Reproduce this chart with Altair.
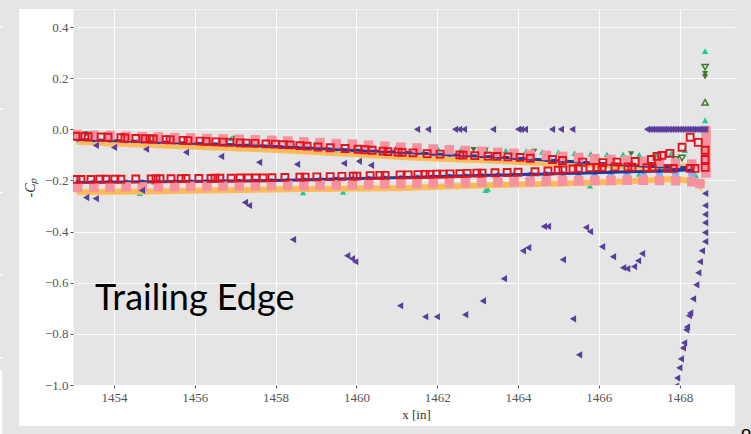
import altair as alt
import pandas as pd

# ---------------- data ----------------
XS = [1453.1, 1453.5, 1453.9, 1454.3, 1454.7, 1455.1, 1455.5, 1455.9, 1456.3, 1456.7,
      1457.1, 1457.5, 1457.9, 1458.3, 1458.7, 1459.1, 1459.5, 1459.9, 1460.3, 1460.7,
      1461.1, 1461.5, 1461.9, 1462.3, 1462.7, 1463.1, 1463.5, 1463.9, 1464.3, 1464.7,
      1465.1, 1465.5, 1465.9, 1466.3, 1466.7, 1467.1, 1467.5, 1467.9, 1468.3]

PINK_A = [-0.020, -0.023, -0.024, -0.027, -0.029, -0.030, -0.033, -0.034, -0.036, -0.038,
          -0.039, -0.041, -0.043, -0.046, -0.049, -0.052, -0.056, -0.058, -0.062, -0.066,
          -0.070, -0.073, -0.077, -0.080, -0.083, -0.086, -0.090, -0.094, -0.098, -0.102,
          -0.106, -0.110, -0.115, -0.118, -0.121, -0.125, -0.128, -0.133, -0.136]
PINK_B = [-0.227, -0.226, -0.226, -0.225, -0.225, -0.224, -0.224, -0.223, -0.223, -0.222,
          -0.222, -0.221, -0.220, -0.219, -0.219, -0.218, -0.217, -0.216, -0.215, -0.213,
          -0.212, -0.211, -0.210, -0.209, -0.208, -0.207, -0.206, -0.205, -0.204, -0.203,
          -0.202, -0.201, -0.200, -0.200, -0.199, -0.199, -0.200, -0.201, -0.205]
PINK_TE_X = [1468.65, 1468.65, 1468.65, 1468.65, 1468.65, 1468.65, 1468.5]
PINK_TE_Y = [-0.005, -0.035, -0.065, -0.100, -0.135, -0.170, -0.212]

BLUE_A = [-0.035, -0.037, -0.039, -0.041, -0.043, -0.045, -0.047, -0.049, -0.051, -0.053,
          -0.055, -0.057, -0.060, -0.063, -0.066, -0.069, -0.072, -0.075, -0.078, -0.082,
          -0.085, -0.088, -0.091, -0.094, -0.097, -0.099, -0.102, -0.105, -0.109, -0.113,
          -0.117, -0.121, -0.125, -0.128, -0.131, -0.134, -0.137, -0.140, -0.143]
BLUE_B = [-0.211, -0.211, -0.210, -0.210, -0.210, -0.210, -0.210, -0.209, -0.209, -0.208,
          -0.208, -0.207, -0.206, -0.204, -0.202, -0.200, -0.199, -0.197, -0.196, -0.194,
          -0.192, -0.190, -0.189, -0.187, -0.186, -0.184, -0.183, -0.181, -0.180, -0.178,
          -0.177, -0.175, -0.174, -0.173, -0.173, -0.172, -0.172, -0.173, -0.176]

NAVY_A = [-0.040, -0.042, -0.044, -0.046, -0.048, -0.050, -0.052, -0.054, -0.056, -0.058,
          -0.061, -0.063, -0.066, -0.069, -0.072, -0.075, -0.078, -0.081, -0.084, -0.087,
          -0.090, -0.093, -0.096, -0.099, -0.102, -0.105, -0.108, -0.112, -0.116, -0.120,
          -0.124, -0.128, -0.133, -0.136, -0.140, -0.143, -0.146, -0.150, -0.148]
NAVY_B = [-0.207, -0.207, -0.206, -0.206, -0.205, -0.205, -0.204, -0.204, -0.203, -0.202,
          -0.202, -0.201, -0.200, -0.199, -0.197, -0.196, -0.194, -0.193, -0.191, -0.190,
          -0.188, -0.187, -0.185, -0.184, -0.182, -0.181, -0.179, -0.178, -0.176, -0.175,
          -0.173, -0.172, -0.170, -0.168, -0.166, -0.165, -0.163, -0.161, -0.158]
NAVY_TE_X = [1468.63, 1468.63]
NAVY_TE_Y = [-0.078, -0.110]

ORANGE_A = [-0.050, -0.052, -0.055, -0.057, -0.060, -0.062, -0.065, -0.067, -0.070, -0.072,
            -0.075, -0.077, -0.080, -0.083, -0.087, -0.090, -0.094, -0.097, -0.101, -0.104,
            -0.108, -0.111, -0.114, -0.116, -0.119, -0.121, -0.124, -0.127, -0.130, -0.132,
            -0.135, -0.137, -0.140, -0.142, -0.144, -0.146, -0.148, -0.150, -0.140]
ORANGE_B = [-0.246, -0.245, -0.244, -0.243, -0.243, -0.242, -0.241, -0.240, -0.239, -0.238,
            -0.237, -0.236, -0.235, -0.234, -0.233, -0.233, -0.232, -0.231, -0.231, -0.230,
            -0.230, -0.228, -0.226, -0.224, -0.222, -0.220, -0.218, -0.216, -0.215, -0.213,
            -0.212, -0.210, -0.208, -0.206, -0.203, -0.200, -0.197, -0.193, -0.203]
ORANGE_TE_X = [1468.62, 1468.58, 1468.52]
ORANGE_TE_Y = [-0.035, -0.215, -0.232]

RED_A_X = [1453.06, 1453.28, 1453.36, 1453.68, 1453.85, 1454.17, 1454.27, 1454.54, 1454.77, 1454.89,
           1454.97, 1455.29, 1455.39, 1455.71, 1455.83, 1456.13, 1456.28, 1456.52, 1456.70, 1456.87,
           1457.12, 1457.27, 1457.49, 1457.76, 1457.99, 1458.18, 1458.36, 1458.60, 1458.78, 1459.05,
           1459.35, 1459.72, 1460.04, 1460.21, 1460.39, 1460.66, 1460.78, 1461.03, 1461.13, 1461.40,
           1461.75, 1462.07, 1462.56, 1462.64, 1462.93, 1463.26, 1463.48, 1463.75, 1464.05, 1464.30,
           1464.85, 1465.10, 1465.60, 1466.10, 1466.45, 1466.90, 1467.30, 1467.44, 1467.56, 1467.76,
           1468.06, 1468.26, 1468.46, 1468.63]
RED_A_Y = [-0.027, -0.028, -0.029, -0.030, -0.031, -0.033, -0.034, -0.036, -0.037, -0.038,
           -0.038, -0.040, -0.041, -0.043, -0.044, -0.046, -0.047, -0.049, -0.050, -0.051,
           -0.053, -0.054, -0.055, -0.057, -0.058, -0.060, -0.061, -0.064, -0.066, -0.069,
           -0.072, -0.075, -0.078, -0.080, -0.082, -0.085, -0.087, -0.089, -0.090, -0.092,
           -0.095, -0.097, -0.100, -0.101, -0.103, -0.105, -0.106, -0.108, -0.110, -0.113,
           -0.118, -0.122, -0.128, -0.130, -0.128, -0.126, -0.118, -0.106, -0.102, -0.094,
           -0.070, -0.031, -0.051, -0.082]
RED_B_X = [1453.06, 1453.18, 1453.43, 1453.65, 1453.80, 1454.02, 1454.17, 1454.54, 1454.92, 1455.04,
           1455.14, 1455.41, 1455.66, 1455.78, 1456.10, 1456.40, 1456.50, 1456.62, 1456.90, 1457.12,
           1457.32, 1457.51, 1457.69, 1457.91, 1458.23, 1458.60, 1458.73, 1459.02, 1459.35, 1459.64,
           1459.92, 1460.01, 1460.34, 1460.58, 1460.71, 1461.08, 1461.28, 1461.52, 1461.70, 1461.82,
           1461.99, 1462.14, 1462.32, 1462.56, 1462.74, 1462.98, 1463.11, 1463.43, 1463.73, 1464.00,
           1464.42, 1464.74, 1464.99, 1465.11, 1465.36, 1465.49, 1465.78, 1465.96, 1466.08, 1466.40,
           1466.72, 1466.82, 1467.19, 1467.32, 1467.71, 1467.84, 1468.26, 1468.38, 1468.63, 1468.63]
RED_B_Y = [-0.196, -0.196, -0.196, -0.195, -0.195, -0.195, -0.195, -0.194, -0.194, -0.194,
           -0.193, -0.193, -0.193, -0.192, -0.192, -0.192, -0.191, -0.191, -0.191, -0.190,
           -0.190, -0.190, -0.190, -0.189, -0.188, -0.187, -0.187, -0.186, -0.185, -0.184,
           -0.183, -0.183, -0.181, -0.180, -0.180, -0.178, -0.178, -0.177, -0.176, -0.176,
           -0.175, -0.175, -0.174, -0.173, -0.172, -0.171, -0.171, -0.170, -0.169, -0.168,
           -0.166, -0.163, -0.160, -0.159, -0.155, -0.153, -0.150, -0.149, -0.148, -0.147,
           -0.147, -0.148, -0.150, -0.151, -0.153, -0.153, -0.153, -0.153, -0.118, -0.149]

TEAL_X = [1453.33, 1455.00, 1456.90, 1459.00, 1461.00, 1462.00, 1462.60, 1463.20, 1463.70, 1464.20,
          1464.60, 1465.00, 1465.40, 1465.80, 1466.20, 1466.60, 1467.00, 1467.40, 1467.80, 1468.13,
          1468.63, 1468.63,
          1453.50, 1454.64, 1455.00, 1458.68, 1459.67, 1463.20, 1463.25, 1465.78, 1467.00, 1468.40]
TEAL_Y = [-0.016, -0.028, -0.036, -0.050, -0.066, -0.072, -0.076, -0.080, -0.083, -0.085,
          -0.088, -0.090, -0.093, -0.096, -0.098, -0.098, -0.099, -0.097, -0.092, -0.082,
          0.306, 0.035,
          -0.205, -0.250, -0.206, -0.247, -0.245, -0.238, -0.233, -0.220, -0.175, -0.180]

GREEN_OPEN_DN_X = [1468.63, 1468.06, 1467.90]
GREEN_OPEN_DN_Y = [0.243, -0.112, -0.118]
GREEN_OPEN_UP_X = [1468.63]
GREEN_OPEN_UP_Y = [0.106]
GREEN_DN_X = [1468.63, 1468.63, 1453.30, 1457.00, 1462.90, 1463.20, 1464.40, 1466.80]
GREEN_DN_Y = [0.218, 0.205, -0.018, -0.036, -0.080, -0.082, -0.086, -0.096]

PURPLE_1_X = [1453.55, 1454.00, 1454.79, 1455.78, 1456.65, 1457.59, 1458.53, 1459.69, 1460.06, 1460.36,
              1453.31, 1453.55, 1454.69, 1457.24, 1457.34]
PURPLE_1_Y = [-0.063, -0.071, -0.078, -0.090, -0.106, -0.129, -0.137, -0.133, -0.125, -0.141,
              -0.267, -0.271, -0.239, -0.286, -0.298]
PURPLE_ROW_X = [1461.50, 1461.77, 1462.44, 1462.54, 1462.66, 1463.38, 1464.00, 1464.07, 1464.17, 1464.84,
                1465.06, 1465.34,
                1467.19, 1467.25, 1467.31, 1467.37, 1467.43, 1467.49, 1467.55, 1467.61, 1467.67, 1467.73,
                1467.79, 1467.85, 1467.91, 1467.97, 1468.03, 1468.09, 1468.15, 1468.21, 1468.27, 1468.33,
                1468.39, 1468.45, 1468.51, 1468.57, 1468.63]
PURPLE_ROW_Y = [0.0, 0.0, 0.0, 0.0, 0.0, 0.0, 0.0, 0.0, 0.0, 0.0,
                0.0, 0.0,
                0.0, 0.0, 0.0, 0.0, 0.0, 0.0, 0.0, 0.0, 0.0, 0.0,
                0.0, 0.0, 0.0, 0.0, 0.0, 0.0, 0.0, 0.0, 0.0, 0.0,
                0.0, 0.0, 0.0, 0.0, 0.0]
PURPLE_2_X = [1458.43, 1459.77, 1459.89, 1459.97, 1461.08, 1461.70, 1461.99, 1462.69, 1463.13, 1463.65,
              1464.12, 1464.25, 1464.64, 1464.74, 1465.11, 1465.36, 1465.51, 1465.68, 1465.78, 1466.08,
              1466.35, 1466.60, 1466.70, 1466.87, 1466.97, 1467.07]
PURPLE_2_Y = [-0.431, -0.494, -0.506, -0.518, -0.690, -0.733, -0.733, -0.725, -0.671, -0.584,
              -0.475, -0.463, -0.380, -0.380, -0.510, -0.741, -0.882, -0.384, -0.400, -0.459,
              -0.498, -0.541, -0.545, -0.537, -0.514, -0.486]
PURPLE_TE_X = [1468.63, 1468.63, 1468.63, 1468.63, 1468.63, 1468.63, 1468.55, 1468.50, 1468.46, 1468.41,
               1468.33, 1468.26, 1468.23, 1468.18, 1468.16, 1468.11, 1468.08, 1468.03, 1467.99, 1467.94,
               1467.91]
PURPLE_TE_Y = [-0.251, -0.298, -0.333, -0.365, -0.404, -0.439, -0.475, -0.518, -0.561, -0.608,
               -0.663, -0.718, -0.729, -0.773, -0.784, -0.835, -0.855, -0.898, -0.933, -0.973,
               -1.004]

X_TICKS = [1454, 1456, 1458, 1460, 1462, 1464, 1466, 1468]
Y_TICKS = [-1.0, -0.8, -0.6, -0.4, -0.2, 0.0, 0.2, 0.4]

ANNOT_TEXT = ["Trailing Edge"]
ANNOT_X = [1453.53]
ANNOT_Y = [-0.706]

# ---------------- styling ----------------
GRAY = "#e5e5e5"
PINK = "#f6929e"
RED = "#e2131f"
BLUE = "#8cb0f0"
NAVY = "#1f3b9b"
ORANGE = "#fdbb5b"
TEAL = "#1ec994"
DKGREEN = "#3a7a2a"
PURPLE = "#5a3e9c"
AX = "#555555"

W, H = 662, 376

x_axis = alt.Axis(values=X_TICKS, format="d", title="x [in]", grid=True, gridColor="white",
                  gridWidth=1, domain=False, tickColor=AX, tickSize=3, labelColor=AX,
                  labelFont="Liberation Serif", labelFontSize=13, labelPadding=3,
                  titleFont="Liberation Serif", titleFontSize=13, titleFontWeight="normal",
                  titleColor="#333333", titleX=343, titleY=29, titleBaseline="middle",
                  titleAlign="center")
y_axis = alt.Axis(values=Y_TICKS, format=".1f", title="-Cₚ", grid=True, gridColor="white",
                  gridWidth=1, domain=False, tickColor=AX, tickSize=3, labelColor=AX,
                  labelFont="Liberation Serif", labelFontSize=13, labelPadding=2,
                  titleFont="Liberation Serif", titleFontSize=14, titleFontWeight="normal",
                  titleFontStyle="italic", titleColor="#333333", titleX=-43, titleY=178,
                  titleBaseline="middle", titleAlign="center", titleAngle=270)

XE = alt.X("x:Q", scale=alt.Scale(domain=[1452.985, 1469.37], nice=False, zero=False), axis=x_axis)
YE = alt.Y("y:Q", scale=alt.Scale(domain=[-1.0, 0.4706], nice=False, zero=False), axis=y_axis)


def df(xs, ys, band="a"):
    return pd.DataFrame({"x": xs, "y": ys, "band": band})


def pts(data, shape, size, color, filled=True, sw=1.0):
    if filled:
        m = alt.Chart(data).mark_point(shape=shape, size=size, filled=True, fill=color,
                                       strokeWidth=0, opacity=1, clip=True)
    else:
        m = alt.Chart(data).mark_point(shape=shape, size=size, filled=False, stroke=color,
                                       strokeWidth=sw, opacity=1, clip=True)
    return m.encode(x=XE, y=YE)


def line(data, color, sw):
    return alt.Chart(data).mark_line(color=color, strokeWidth=sw, clip=True).encode(
        x=XE, y=YE, detail="band:N")


dummy = pd.DataFrame({"a": [0]})


def prect(x1, x2, y1, y2, color):
    return alt.Chart(dummy).mark_rect(color=color, clip=False).encode(
        x=alt.value(x1), x2=alt.value(x2), y=alt.value(y1), y2=alt.value(y2))


layers = []
# slide decorations outside the white figure box
layers.append(prect(-73, W + 16, -9, 0, GRAY))
layers.append(prect(-73, -54, -9, H + 49, GRAY))
layers.append(prect(W, W + 16, -9, H + 49, GRAY))
layers.append(prect(-73, W + 16, H + 41, H + 49, GRAY))
for ty in [17, 99, 183, 265, 348]:
    layers.append(prect(-73, -70, ty, ty + 1.5, "white"))
layers.append(prect(-73, -71, 361, H + 49, "white"))

# data series
teal = df(TEAL_X, TEAL_Y)
layers.append(pts(teal, "triangle-up", 42, TEAL))
layers.append(pts(df(GREEN_DN_X, GREEN_DN_Y), "triangle-down", 38, DKGREEN))
layers.append(pts(df(GREEN_OPEN_DN_X, GREEN_OPEN_DN_Y), "triangle-down", 38, DKGREEN, False, 1.5))
layers.append(pts(df(GREEN_OPEN_UP_X, GREEN_OPEN_UP_Y), "triangle-up", 38, DKGREEN, False, 1.5))

orange = pd.concat([df(XS, ORANGE_A, "a"), df(XS, ORANGE_B, "b")])
layers.append(line(orange, ORANGE, 6))
layers.append(pts(orange, "triangle-down", 42, ORANGE))
layers.append(pts(df(ORANGE_TE_X, ORANGE_TE_Y), "triangle-down", 42, ORANGE))

blue = pd.concat([df(XS, BLUE_A, "a"), df(XS, BLUE_B, "b")])
layers.append(pts(blue, "circle", 55, BLUE))

navy = pd.concat([df(XS, NAVY_A, "a"), df(XS, NAVY_B, "b")])
layers.append(line(navy, NAVY, 3))
layers.append(pts(navy, "circle", 16, NAVY))
layers.append(pts(df(NAVY_TE_X, NAVY_TE_Y), "square", 20, NAVY))

pink = pd.concat([df(XS, PINK_A, "a"), df(XS, PINK_B, "b"), df(PINK_TE_X, PINK_TE_Y, "c")])
layers.append(pts(pink, "square", 92, PINK))

red = pd.concat([df(RED_A_X, RED_A_Y, "a"), df(RED_B_X, RED_B_Y, "b")])
layers.append(pts(red, "square", 48, RED, False, 1.9))

purple = pd.concat([df(PURPLE_1_X, PURPLE_1_Y), df(PURPLE_ROW_X, PURPLE_ROW_Y),
                    df(PURPLE_2_X, PURPLE_2_Y), df(PURPLE_TE_X, PURPLE_TE_Y)])
layers.append(pts(purple, "triangle-left", 52, PURPLE))

annot = pd.DataFrame({"x": ANNOT_X, "y": ANNOT_Y, "t": ANNOT_TEXT})
layers.append(alt.Chart(annot).mark_text(font="Lato", fontSize=36, align="left",
                                         baseline="alphabetic", color="black").encode(
    x=XE, y=YE, text="t:N"))

layers.append(alt.Chart(dummy).mark_text(text="8", font="Lato", fontSize=20, align="center",
                                         baseline="alphabetic", color="black", clip=False).encode(
    x=alt.value(W + 11), y=alt.value(H + 58)))

chart = alt.layer(*layers).properties(
    width=W, height=H,
    padding={"left": 73, "top": 9, "right": 16, "bottom": 49},
    autosize=alt.AutoSizeParams(type="none"),
).configure(background="white").configure_view(fill=GRAY, stroke="transparent")

chart.save("out.html", embed_options={"renderer": "svg", "actions": False})
